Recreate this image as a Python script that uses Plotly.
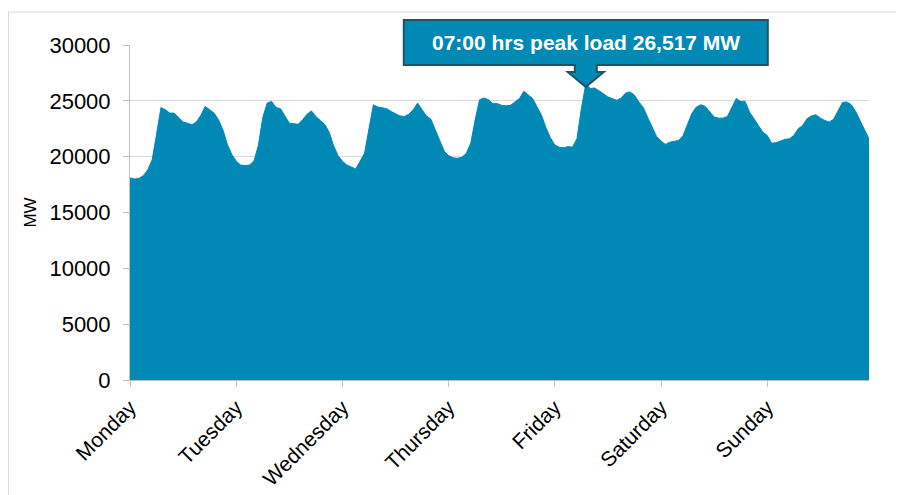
import plotly.graph_objects as go

day_labels = ["Monday", "Tuesday", "Wednesday", "Thursday", "Friday", "Saturday", "Sunday"]

monday = [18100, 18000, 18050, 18300, 18800, 19700, 22000, 24400, 24200, 23900, 23900, 23500,
          23100, 23000, 22850, 23100, 23700, 24500, 24200, 23900, 23300, 22400, 21100, 20200]
tuesday = [19600, 19250, 19200, 19250, 19600, 21000, 23500, 24800, 24950, 24400, 24300, 23600,
           23000, 22950, 22900, 23300, 23800, 24100, 23600, 23250, 22900, 22200, 21000, 20100]
wednesday = [19600, 19250, 19050, 18900, 19600, 20300, 22500, 24650, 24450, 24350, 24300, 24050,
             23850, 23650, 23600, 23800, 24200, 24800, 24200, 23650, 23350, 22400, 21400, 20500]
thursday = [20100, 19900, 19850, 19950, 20300, 21200, 23300, 25100, 25250, 25100, 24750, 24750,
            24600, 24550, 24600, 24900, 25200, 25850, 25500, 25200, 24450, 23700, 22600, 21700]
friday = [21050, 20850, 20800, 20900, 20850, 21600, 24300, 26517, 26100, 26150, 25900, 25650,
          25350, 25200, 25050, 25250, 25700, 25800, 25500, 24900, 24400, 23500, 22600, 21800]
saturday = [21400, 21100, 21300, 21350, 21450, 21900, 22900, 23900, 24450, 24650, 24500, 24000,
            23550, 23450, 23450, 23600, 24400, 25200, 24950, 24950, 24000, 23350, 22800, 22200]
sunday = [21900, 21200, 21250, 21400, 21550, 21600, 21900, 22500, 22800, 23400, 23650, 23750,
          23450, 23250, 23100, 23350, 24100, 24850, 24900, 24650, 24050, 23150, 22400, 21600]

load = monday + tuesday + wednesday + thursday + friday + saturday + sunday
hours = list(range(len(load)))
day_ticks = [i * 24 for i in range(len(day_labels))]
y_max = 30000

peak_val = max(load)
peak_idx = load.index(peak_val)
peak_text = "07:00 hrs peak load 26,517 MW"

fill_color = "#0189B6"

fig = go.Figure()
fig.add_trace(go.Scatter(
    x=hours, y=load, mode="lines", fill="tozeroy",
    line=dict(color=fill_color, width=1), fillcolor=fill_color,
    hoverinfo="skip", showlegend=False,
))

# callout box with arrow (pixel sized, anchored at the peak)
callout = ("M 0,-3 L -18,12 L -11,12 L -11,19 L -182,19 L -182,64 "
           "L 182,64 L 182,19 L 11,19 L 11,12 L 18,12 Z")
fig.add_shape(type="path", path=callout,
              xref="paper", yref="paper", xsizemode="pixel", ysizemode="pixel",
              xanchor=peak_idx / (len(load) - 1), yanchor=peak_val / y_max,
              fillcolor=fill_color, line=dict(color="#1d5466", width=2), layer="above")
fig.add_annotation(x=peak_idx, y=peak_val, xref="x", yref="y", text="<b>" + peak_text + "</b>",
                   showarrow=False, yshift=41, font=dict(color="white", size=21, family="Liberation Sans"))

# outer frame lines
fig.add_shape(type="line", xref="paper", yref="paper", x0=-0.1644, x1=1.1, y0=1.0985, y1=1.0985,
              line=dict(color="#d9d9d9", width=1))
fig.add_shape(type="line", xref="paper", yref="paper", x0=-0.1644, x1=-0.1644, y0=1.0985, y1=-0.4,
              line=dict(color="#d9d9d9", width=1))

fig.update_layout(
    width=896, height=487,
    margin=dict(l=122, r=35, t=37, b=115, autoexpand=False),
    paper_bgcolor="white", plot_bgcolor="white",
    font=dict(family="Liberation Sans", color="#000000"),
    xaxis=dict(
        range=[0, len(load) - 1], tickmode="array", tickvals=day_ticks, ticktext=day_labels,
        tickangle=-45, tickfont=dict(size=21), showgrid=False, zeroline=False,
        showline=True, linecolor="#bfbfbf", linewidth=1, automargin=False,
        ticks="outside", ticklen=6, tickcolor="#bfbfbf",
    ),
    yaxis=dict(
        range=[0, y_max], dtick=5000, tickfont=dict(size=22), tickformat="d",
        showgrid=True, gridcolor="#d9d9d9", gridwidth=1, zeroline=False,
        showline=True, linecolor="#bfbfbf", linewidth=1, automargin=False,
        ticks="outside", ticklen=6, tickcolor="#bfbfbf", ticklabelstandoff=8,
        title=dict(text="MW", font=dict(size=17), standoff=8),
    ),
)

fig.write_html("out.html")
